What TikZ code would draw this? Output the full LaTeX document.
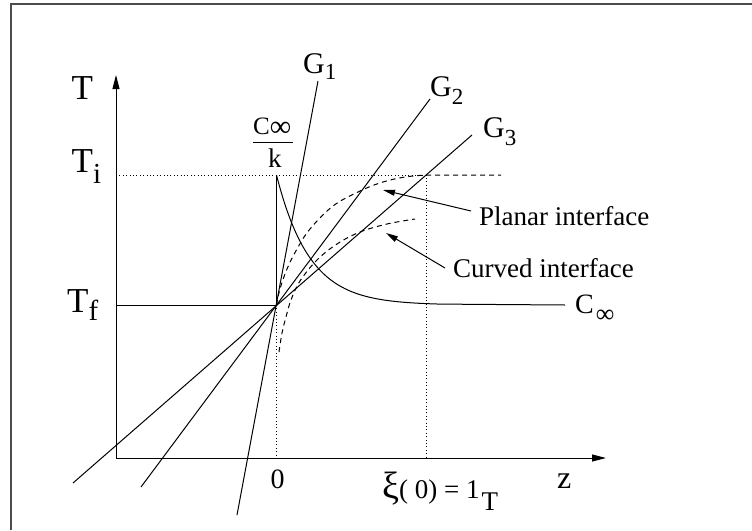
\documentclass[tikz,border=0pt]{standalone}
\usepackage{fontspec}
\setmainfont{Liberation Serif}
\usetikzlibrary{arrows.meta}
\newcommand\fs[1]{\fontsize{#1}{#1}\selectfont}
\begin{document}
\begin{tikzpicture}[x=1pt,y=-1pt,
  ln/.style={line width=1pt},
  dotl/.style={line width=1pt,dash pattern=on 1pt off 2.4pt},
  dashl/.style={line width=1pt,dash pattern=on 5pt off 4pt},
  lbl/.style={inner sep=0pt,anchor=base west},
  axtip/.style={-{Triangle[length=14pt,width=7pt]}},
  ptip/.style={-{Triangle[length=12pt,width=6pt]}}]
\useasboundingbox (0,0) rectangle (752,530);
% frame
\coordinate (F1) at (11,530);
\coordinate (F2) at (11,4);
\coordinate (F3) at (752,4);
\draw[black!70,line width=1.2pt] (F1) -- (F2) -- (F3);
% key points
\coordinate (O) at (116,458);
\coordinate (Ttop) at (116,75);
\coordinate (Zend) at (606,458);
\coordinate (P) at (276.5,305);
\coordinate (Tfl) at (116,305);
\coordinate (Til) at (116,175);
\coordinate (Q) at (276.5,175);
\coordinate (R) at (426,175);
\coordinate (Rb) at (426,458);
\coordinate (Zb) at (276.5,458);
\coordinate (Cend) at (565,305);
\coordinate (PE) at (501,175);
% axes
\draw[ln,axtip] (O) -- (Ttop);
\draw[ln,axtip] (O) -- (Zend);
% dotted guides
\draw[dotl] (Til) -- (R) -- (Rb);
\draw[dotl] (P) -- (Zb);
% Tf line and vertical jump
\draw[ln] (Tfl) -- (P) -- (Q);
% concentration curve
\draw[ln] plot[domain=276.5:440,samples=120] (\x,{305-130*exp(-(\x-276.5)/33)}) -- (Cend);
% gradient lines
\coordinate (G1a) at (237,515);
\coordinate (G1b) at (318,81);
\coordinate (G2a) at (141,487);
\coordinate (G2b) at (430,99);
\coordinate (G3a) at (73,483);
\coordinate (G3b) at (472,135);
\draw[ln] (G1a) -- (G1b);
\draw[ln] (G2a) -- (G2b);
\draw[ln] (G3a) -- (G3b);
% dashed liquidus curves
\draw[dashl] plot[smooth,tension=0.6] coordinates {(276.5,305) (280,289) (287,269) (297,249) (310,229) (333,206) (360,191) (383,182) (405,177) (426,175)} -- (PE);
\draw[dashl] plot[smooth,tension=0.6] coordinates {(279,352) (282,333) (286,317) (291,300) (300,281) (317,260) (337,244) (360,232) (387,224) (415,219)};
% labels
\node[lbl] (tT) at (71.5,99) {\fs{35}T};
\node[lbl] (tTi) at (71.5,172) {\fs{35}T\raisebox{-11pt}{\fs{29}i}};
\node[lbl] (tTf) at (67,312) {\fs{35}T\raisebox{-8pt}{\fs{29}f}};
\node[lbl] (g1) at (303,73) {\fs{30}G\raisebox{-6pt}{\fs{23}1}};
\node[lbl] (g2) at (430,96) {\fs{30}G\raisebox{-8pt}{\fs{23}2}};
\node[lbl] (g3) at (483,137) {\fs{30}G\raisebox{-8pt}{\fs{23}3}};
\node[lbl] (num) at (253,134) {\fs{25}C\raisebox{-2pt}{\fs{30}∞}};
\coordinate (B1) at (253,142);
\coordinate (B2) at (293,142);
\draw[ln] (B1) -- (B2);
\node[lbl] (den) at (268,167) {\fs{27}k};
\node[lbl] (cinf) at (575,313) {\fs{28}C\kern2pt\raisebox{-9pt}{\fs{26}∞}};
\node[inner sep=0pt,anchor=base] (zero) at (277.5,488) {\fs{28}0};
\node[lbl] (zl) at (557,488) {\fs{32}z};
\node[lbl] (xi) at (382,498) {\fs{38}ξ\fs{27}( 0) = 1\kern2pt\raisebox{-12pt}{T}};
\node[lbl] (pl) at (479,225) {\fs{27}Planar interface};
\node[lbl] (cl) at (453,277) {\fs{27}Curved interface};
% pointer arrows
\coordinate (plt) at (471,211);
\coordinate (plh) at (383,190);
\coordinate (clt) at (445,268);
\coordinate (clh) at (386,233);
\draw[ln,ptip] (plt) -- (plh);
\draw[ln,ptip] (clt) -- (clh);
\end{tikzpicture}
\end{document}
